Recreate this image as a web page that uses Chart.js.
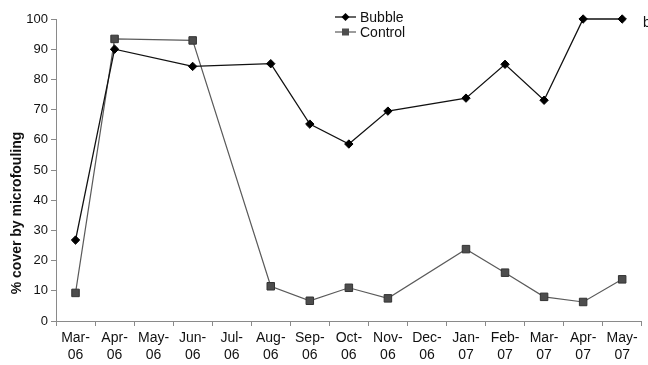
<!DOCTYPE html>
<html>
<head>
<meta charset="utf-8">
<script src="https://cdn.jsdelivr.net/npm/chart.js@4"></script>
<style>
  html, body { margin: 0; padding: 0; background: #fff; }
  canvas { display: block; }
</style>
</head>
<body>
<canvas id="chart" width="648" height="365"></canvas>
<script>
// Monthly sampling dates (two-line tick labels)
const months = [
  ['Mar-', '06'], ['Apr-', '06'], ['May-', '06'], ['Jun-', '06'], ['Jul-', '06'],
  ['Aug-', '06'], ['Sep-', '06'], ['Oct-', '06'], ['Nov-', '06'], ['Dec-', '06'],
  ['Jan-', '07'], ['Feb-', '07'], ['Mar-', '07'], ['Apr-', '07'], ['May-', '07']
];

// % cover by microfouling; null = no sample that month
const bubble  = [26.8, 90.0, null, 84.3, null, 85.2, 65.2, 58.6, 69.5, null, 73.8, 85.0, 73.1, 100, 100];
const control = [9.3, 93.4, null, 92.9, null, 11.5, 6.7, 11.0, 7.5, null, 23.8, 16.0, 8.0, 6.3, 13.8];

const yTicks = { min: 0, max: 100, step: 10 };

const FONT = '"Liberation Sans", Arial, Helvetica, sans-serif';

// In-plot legend, y-axis title and panel letter
const annotations = {
  id: 'annotations',
  afterDraw(chart) {
    const ctx = chart.ctx;
    ctx.save();
    ctx.font = '14px ' + FONT;
    ctx.textBaseline = 'middle';
    ctx.textAlign = 'left';
    ctx.fillStyle = '#111';

    const items = [
      { label: 'Bubble', y: 17, ds: chart.data.datasets[0], shape: 'diamond' },
      { label: 'Control', y: 32, ds: chart.data.datasets[1], shape: 'square' }
    ];
    items.forEach(it => {
      ctx.strokeStyle = it.ds.borderColor;
      ctx.lineWidth = it.ds.borderWidth;
      ctx.beginPath();
      ctx.moveTo(335, it.y);
      ctx.lineTo(356, it.y);
      ctx.stroke();
      ctx.fillStyle = it.ds.pointBackgroundColor;
      ctx.beginPath();
      if (it.shape === 'diamond') {
        ctx.moveTo(345.5, it.y - 4);
        ctx.lineTo(349.5, it.y);
        ctx.lineTo(345.5, it.y + 4);
        ctx.lineTo(341.5, it.y);
        ctx.closePath();
      } else {
        ctx.rect(342, it.y - 3.5, 7, 7);
      }
      ctx.fill();
      ctx.fillStyle = '#111';
      ctx.fillText(it.label, 360, it.y + 1);
    });

    // panel letter
    ctx.fillText('b', 643, 23);

    // y-axis title
    ctx.font = 'bold 14px ' + FONT;
    ctx.textAlign = 'center';
    ctx.translate(17, 213);
    ctx.rotate(-Math.PI / 2);
    ctx.fillText('% cover by microfouling', 0, 0);
    ctx.restore();
  }
};

new Chart(document.getElementById('chart'), {
  type: 'line',
  data: {
    labels: months,
    datasets: [
      {
        label: 'Bubble',
        data: bubble,
        borderColor: '#111',
        borderWidth: 1.3,
        pointStyle: 'rectRot',
        pointRadius: 4.2,
        pointBackgroundColor: '#000',
        pointBorderColor: '#000',
        pointBorderWidth: 1,
        spanGaps: true,
        tension: 0,
        clip: false,
        order: 0
      },
      {
        label: 'Control',
        data: control,
        borderColor: '#5a5a5a',
        borderWidth: 1.2,
        pointStyle: 'rect',
        pointRadius: 5.3,
        pointBackgroundColor: '#4d4d4d',
        pointBorderColor: '#333',
        pointBorderWidth: 1,
        spanGaps: true,
        tension: 0,
        clip: false,
        order: 1
      }
    ]
  },
  options: {
    responsive: false,
    animation: false,
    layout: { padding: { top: 19, right: 2, left: 0, bottom: 0 } },
    plugins: {
      legend: { display: false },
      tooltip: { enabled: false }
    },
    scales: {
      x: {
        type: 'category',
        offset: true,
        grid: {
          offset: true,
          drawOnChartArea: false,
          drawTicks: true,
          tickLength: 5,
          color: '#8a8a8a'
        },
        border: { display: true, color: '#8a8a8a', width: 1 },
        ticks: {
          color: '#111',
          font: { family: FONT, size: 14 },
          maxRotation: 0,
          autoSkip: false,
          padding: 4
        },
        afterFit(scale) { scale.height = 44; }
      },
      y: {
        min: yTicks.min,
        max: yTicks.max,
        grid: {
          drawOnChartArea: false,
          drawTicks: true,
          tickLength: 5,
          color: '#8a8a8a'
        },
        border: { display: true, color: '#8a8a8a', width: 1 },
        ticks: {
          stepSize: yTicks.step,
          color: '#111',
          font: { family: FONT, size: 13 },
          padding: 3
        },
        afterFit(scale) { scale.width = 56; }
      }
    }
  },
  plugins: [annotations]
});
</script>
</body>
</html>
